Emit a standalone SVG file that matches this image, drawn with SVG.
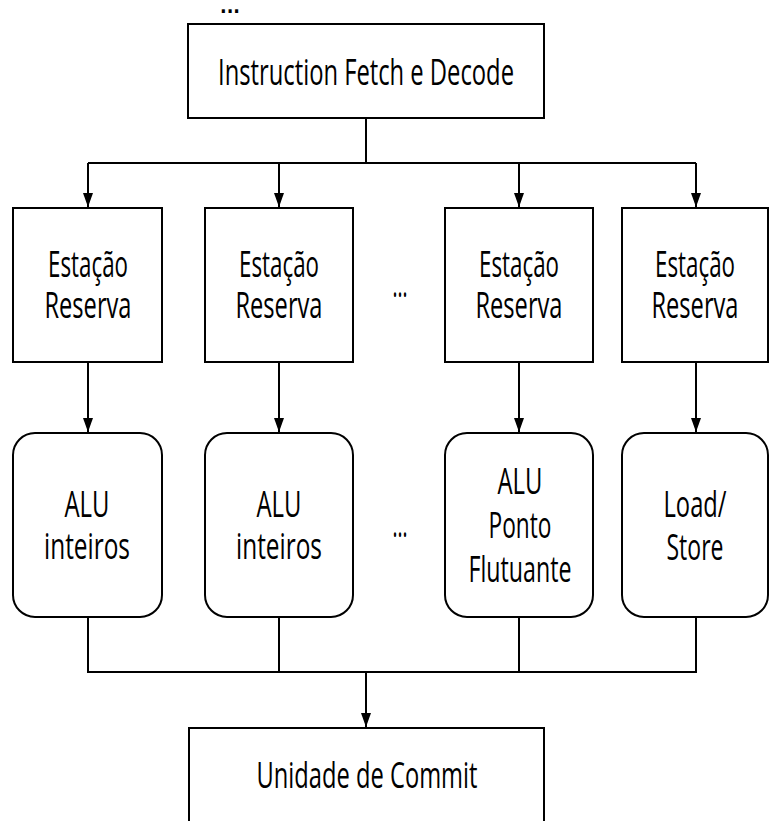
<svg xmlns="http://www.w3.org/2000/svg" width="769" height="821" viewBox="0 0 769 821">
  <style>
    .box { fill: #ffffff; stroke: #000000; stroke-width: 2; }
    .wire { fill: none; stroke: #000000; stroke-width: 2; }
    .lbl { font-family: "Open Sans", "DejaVu Sans", sans-serif; font-weight: 400; font-size: 37px; fill: #000000; text-anchor: middle; }
    .dots { font-family: "DejaVu Sans", sans-serif; font-weight: bold; font-size: 20px; fill: #000000; text-anchor: middle; }
  </style>
  <defs>
    <marker id="arrow" viewBox="0 0 14 10" refX="14" refY="5" markerWidth="14" markerHeight="10" markerUnits="userSpaceOnUse" orient="auto">
      <path d="M0,0 L14,5 L0,10 z" fill="#000000"/>
    </marker>
  </defs>

  <rect width="769" height="821" fill="#ffffff"/>

  <text class="dots" x="230" y="13" textLength="20" lengthAdjust="spacingAndGlyphs">...</text>

  <!-- connectors -->
  <g id="connectors">
    <path class="wire" d="M366,118 V163 M88,163 H696"/>
    <path class="wire" d="M88,163 V207" marker-end="url(#arrow)"/>
    <path class="wire" d="M279,163 V207" marker-end="url(#arrow)"/>
    <path class="wire" d="M519,163 V207" marker-end="url(#arrow)"/>
    <path class="wire" d="M696,163 V207" marker-end="url(#arrow)"/>
    <path class="wire" d="M88,362 V432" marker-end="url(#arrow)"/>
    <path class="wire" d="M279,362 V432" marker-end="url(#arrow)"/>
    <path class="wire" d="M519,362 V432" marker-end="url(#arrow)"/>
    <path class="wire" d="M696,362 V432" marker-end="url(#arrow)"/>
    <path class="wire" d="M88,617 V672 H696 V617 M279,617 V672 M519,617 V672"/>
    <path class="wire" d="M366,672 V727" marker-end="url(#arrow)"/>
  </g>

  <g id="fetch">
    <rect class="box" x="188" y="24" width="356" height="94"/>
    <text class="lbl" x="366" y="85" textLength="296" lengthAdjust="spacingAndGlyphs">Instruction Fetch e Decode</text>
  </g>

  <g id="rs1">
    <rect class="box" x="13" y="208" width="149" height="154"/>
    <text class="lbl" x="88" y="277" textLength="80" lengthAdjust="spacingAndGlyphs">Estação</text>
    <text class="lbl" x="88" y="318" textLength="87" lengthAdjust="spacingAndGlyphs">Reserva</text>
  </g>
  <g id="rs2">
    <rect class="box" x="205" y="208" width="148" height="154"/>
    <text class="lbl" x="279" y="277" textLength="80" lengthAdjust="spacingAndGlyphs">Estação</text>
    <text class="lbl" x="279" y="318" textLength="87" lengthAdjust="spacingAndGlyphs">Reserva</text>
  </g>
  <g id="rs3">
    <rect class="box" x="445" y="208" width="148" height="154"/>
    <text class="lbl" x="519" y="277" textLength="80" lengthAdjust="spacingAndGlyphs">Estação</text>
    <text class="lbl" x="519" y="318" textLength="87" lengthAdjust="spacingAndGlyphs">Reserva</text>
  </g>
  <g id="rs4">
    <rect class="box" x="622" y="208" width="146" height="154"/>
    <text class="lbl" x="695" y="277" textLength="80" lengthAdjust="spacingAndGlyphs">Estação</text>
    <text class="lbl" x="695" y="318" textLength="87" lengthAdjust="spacingAndGlyphs">Reserva</text>
  </g>

  <g id="gap-rs">
    <text class="lbl" x="400" y="297" textLength="15" lengthAdjust="spacingAndGlyphs">...</text>
  </g>

  <g id="alu1">
    <rect class="box" x="13" y="433" width="149" height="184" rx="22" ry="22"/>
    <text class="lbl" x="87" y="517" textLength="45" lengthAdjust="spacingAndGlyphs">ALU</text>
    <text class="lbl" x="87" y="559" textLength="86" lengthAdjust="spacingAndGlyphs">inteiros</text>
  </g>
  <g id="alu2">
    <rect class="box" x="205" y="433" width="148" height="184" rx="22" ry="22"/>
    <text class="lbl" x="279" y="517" textLength="45" lengthAdjust="spacingAndGlyphs">ALU</text>
    <text class="lbl" x="279" y="559" textLength="86" lengthAdjust="spacingAndGlyphs">inteiros</text>
  </g>
  <g id="alu-fp">
    <rect class="box" x="445" y="433" width="148" height="184" rx="22" ry="22"/>
    <text class="lbl" x="520" y="494" textLength="45" lengthAdjust="spacingAndGlyphs">ALU</text>
    <text class="lbl" x="520" y="538" textLength="63" lengthAdjust="spacingAndGlyphs">Ponto</text>
    <text class="lbl" x="520" y="582" textLength="103" lengthAdjust="spacingAndGlyphs">Flutuante</text>
  </g>
  <g id="load-store">
    <rect class="box" x="622" y="433" width="146" height="184" rx="22" ry="22"/>
    <text class="lbl" x="695" y="517" textLength="63" lengthAdjust="spacingAndGlyphs">Load/</text>
    <text class="lbl" x="695" y="560" textLength="57" lengthAdjust="spacingAndGlyphs">Store</text>
  </g>

  <g id="gap-alu">
    <text class="lbl" x="400" y="537" textLength="15" lengthAdjust="spacingAndGlyphs">...</text>
  </g>

  <g id="commit">
    <rect class="box" x="189" y="728" width="355" height="120"/>
    <text class="lbl" x="367" y="788" textLength="221" lengthAdjust="spacingAndGlyphs">Unidade de Commit</text>
  </g>
</svg>
